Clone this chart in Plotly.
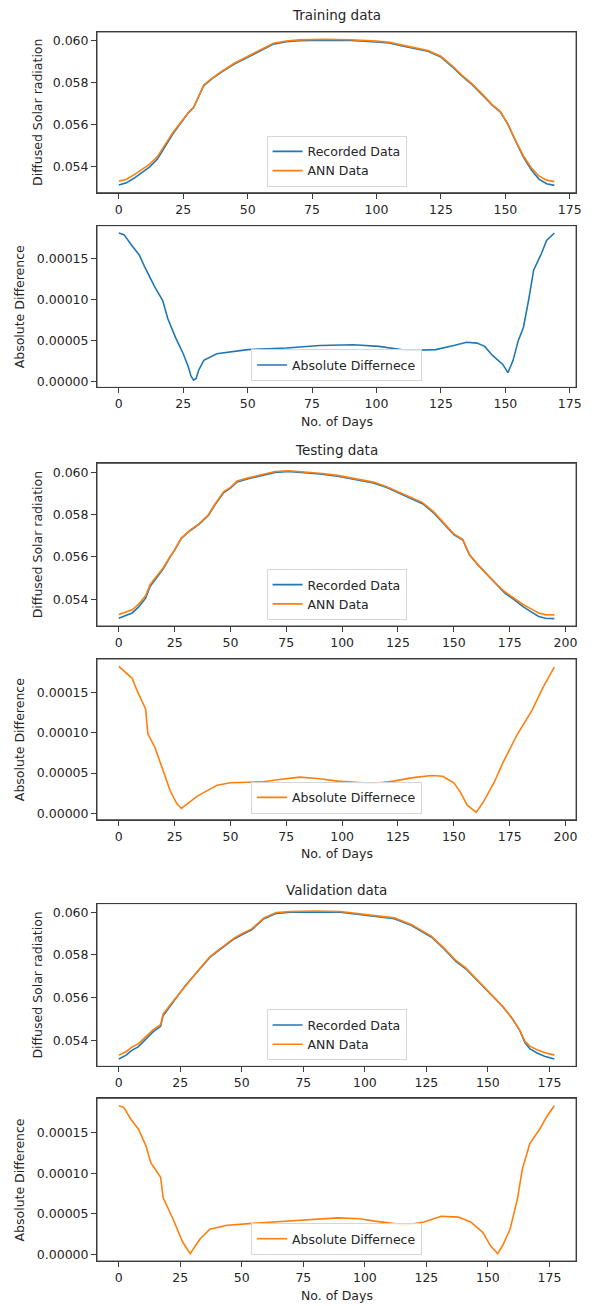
import plotly.graph_objects as go

# ---------------- data ----------------
# Training
train_days = [0, 3, 6, 9, 12, 15, 18, 21, 24, 27, 29, 31, 33, 36, 40, 45, 50, 55, 60, 65, 70, 80, 90,
              100, 105, 110, 115, 120, 125, 130, 133, 137, 142, 145, 148, 151, 154, 157, 160, 163, 166, 169]
train_rec = [0.05312, 0.05322, 0.05345, 0.05372, 0.05398, 0.05435, 0.05495, 0.05555, 0.05605, 0.05655,
             0.05680, 0.05730, 0.05785, 0.05815, 0.05850, 0.05888, 0.05920, 0.05950, 0.05982, 0.05993,
             0.05998, 0.06001, 0.05999, 0.05992, 0.05987, 0.05973, 0.05960, 0.05948, 0.05920, 0.05868,
             0.05832, 0.05790, 0.05728, 0.05690, 0.05660, 0.05600, 0.05520, 0.05445, 0.05385, 0.05340,
             0.05318, 0.05310]
train_ann = [0.05330, 0.05339, 0.05361, 0.05387, 0.05411, 0.05447, 0.05505, 0.05562, 0.05609, 0.05657,
             0.05680, 0.05731, 0.05788, 0.05818, 0.05853, 0.05892, 0.05924, 0.05954, 0.05986, 0.05997,
             0.06002, 0.06005, 0.06003, 0.05996, 0.05991, 0.05977, 0.05964, 0.05952, 0.05924, 0.05872,
             0.05836, 0.05794, 0.05732, 0.05693, 0.05662, 0.05601, 0.05523, 0.05450, 0.05395, 0.05355,
             0.05335, 0.05328]
train_diff_days = [0, 2, 5, 8, 10, 14, 17, 19, 22, 25, 27, 28, 29, 30, 31, 33, 38, 50, 65, 78, 91, 101,
                   112, 123, 130, 135, 139, 142, 145, 149, 151, 153, 155, 157, 159, 161, 164, 166, 169]
train_diff = [0.000181, 0.000179, 0.000166, 0.000154, 0.000140, 0.000115, 0.000099, 0.000077, 0.000054,
              0.000034, 0.000018, 0.000007, 0.000002, 0.000004, 0.000014, 0.000026, 0.000034, 0.000039,
              0.000041, 0.000044, 0.000045, 0.000043, 0.000038, 0.000039, 0.000044, 0.000048, 0.000047,
              0.000043, 0.000032, 0.000021, 0.000011, 0.000026, 0.000050, 0.000066, 0.000099, 0.000136,
              0.000156, 0.000172, 0.000181]

# Testing
test_days = [0, 3, 6, 9, 12, 14, 17, 20, 23, 25, 28, 32, 36, 40, 43, 47, 50, 53, 58, 62, 66, 70, 76, 82,
             90, 98, 107, 114, 120, 125, 131, 136, 141, 146, 150, 154, 157, 161, 165, 169, 173, 177, 181,
             185, 188, 191, 195]
test_rec = [0.05310, 0.05322, 0.05335, 0.05365, 0.05405, 0.05460, 0.05500, 0.05545, 0.05600, 0.05632,
            0.05688, 0.05725, 0.05755, 0.05795, 0.05845, 0.05905, 0.05925, 0.05955, 0.05970, 0.05980,
            0.05990, 0.06000, 0.06004, 0.06000, 0.05992, 0.05982, 0.05966, 0.05950, 0.05928, 0.05905,
            0.05876, 0.05852, 0.05808, 0.05752, 0.05705, 0.05680, 0.05610, 0.05560, 0.05515, 0.05468,
            0.05428, 0.05398, 0.05365, 0.05338, 0.05318, 0.05310, 0.05308]
test_ann = [0.05328, 0.05338, 0.05350, 0.05378, 0.05416, 0.05469, 0.05507, 0.05550, 0.05602, 0.05633,
            0.05689, 0.05727, 0.05758, 0.05798, 0.05849, 0.05909, 0.05929, 0.05959, 0.05974, 0.05984,
            0.05994, 0.06004, 0.06008, 0.06004, 0.05996, 0.05986, 0.05970, 0.05954, 0.05932, 0.05909,
            0.05880, 0.05857, 0.05813, 0.05756, 0.05709, 0.05683, 0.05611, 0.05560, 0.05516, 0.05472,
            0.05434, 0.05405, 0.05375, 0.05352, 0.05335, 0.05327, 0.05326]
test_diff_days = [0, 3, 6, 8, 10, 12, 13, 16, 20, 23, 26, 28, 35, 44, 50, 64, 72, 81, 90, 98, 114, 123,
                  131, 140, 145, 150, 153, 156, 160, 163, 168, 172, 178, 185, 190, 193, 195]
test_diff = [0.000183, 0.000176, 0.000168, 0.000154, 0.000142, 0.000130, 0.000099, 0.000083, 0.000052,
             0.000028, 0.000012, 0.000006, 0.000021, 0.000035, 0.000038, 0.000039, 0.000042, 0.000045,
             0.000043, 0.000040, 0.000037, 0.000040, 0.000044, 0.000047, 0.000046, 0.000038, 0.000026,
             0.000010, 0.000001, 0.000013, 0.000038, 0.000063, 0.000096, 0.000128, 0.000157, 0.000172,
             0.000182]

# Validation
val_days = [0, 3, 5, 8, 11, 14, 17, 18, 21, 23, 27, 30, 33, 37, 40, 44, 47, 50, 54, 59, 64, 70, 80, 90,
            98, 105, 112, 119, 127, 132, 137, 141, 144, 150, 156, 160, 163, 165, 167, 170, 173, 177]
val_rec = [0.05312, 0.05330, 0.05350, 0.05370, 0.05405, 0.05440, 0.05465, 0.05515, 0.05562, 0.05593,
           0.05655, 0.05695, 0.05735, 0.05788, 0.05815, 0.05852, 0.05876, 0.05895, 0.05918, 0.05970,
           0.05995, 0.06000, 0.06002, 0.06000, 0.05990, 0.05980, 0.05970, 0.05938, 0.05884, 0.05830,
           0.05770, 0.05735, 0.05700, 0.05628, 0.05558, 0.05500, 0.05445, 0.05390, 0.05360, 0.05340,
           0.05325, 0.05312]
val_ann = [0.05330, 0.05346, 0.05365, 0.05384, 0.05417, 0.05450, 0.05473, 0.05522, 0.05567, 0.05596,
           0.05656, 0.05695, 0.05737, 0.05791, 0.05819, 0.05856, 0.05880, 0.05899, 0.05922, 0.05974,
           0.05999, 0.06004, 0.06006, 0.06004, 0.05994, 0.05984, 0.05974, 0.05942, 0.05888, 0.05834,
           0.05774, 0.05739, 0.05703, 0.05631, 0.05559, 0.05500, 0.05446, 0.05396, 0.05372, 0.05355,
           0.05342, 0.05330]
val_diff_days = [0, 2, 5, 8, 11, 13, 17, 18, 22, 26, 29, 33, 37, 44, 58, 74, 89, 98, 104, 112, 116, 124,
                 131, 138, 143, 148, 151, 154, 156, 159, 162, 164, 167, 171, 174, 177]
val_diff = [0.000183, 0.000181, 0.000166, 0.000154, 0.000134, 0.000113, 0.000095, 0.000070, 0.000044,
            0.000015, 0.000001, 0.000019, 0.000031, 0.000036, 0.000039, 0.000042, 0.000045, 0.000044,
            0.000041, 0.000038, 0.000036, 0.000040, 0.000047, 0.000046, 0.000040, 0.000027, 0.000011,
            0.000001, 0.000011, 0.000031, 0.000068, 0.000105, 0.000136, 0.000154, 0.000170, 0.000183]

titles = ["Training data", "Testing data", "Validation data"]
top_ticks = [0.054, 0.056, 0.058, 0.060]
diff_ticks = [0.0, 0.00005, 0.00010, 0.00015]
x_ticks_train = [0, 25, 50, 75, 100, 125, 150, 175]
x_ticks_test = [0, 25, 50, 75, 100, 125, 150, 175, 200]
x_ticks_val = [0, 25, 50, 75, 100, 125, 150, 175]

# ---------------- layout helpers ----------------
W, H = 592, 1306
BLUE, ORANGE = "#1f77b4", "#ff7f0e"
FONT = "DejaVu Sans"
TXT = "#262626"
LINE = "#3c3c3c"


def fx(p):
    return p / W


def fy(p):
    return 1 - p / H


def mrange(vals):
    lo, hi = min(vals), max(vals)
    pad = 0.05 * (hi - lo)
    return [lo - pad, hi + pad]


def aref(letter, idx):
    return letter if idx == 1 else f"{letter}{idx}"


# pixel boxes (top, bottom) of the six panels
boxes = [(32, 193), (226, 388), (464, 627), (660, 821), (905, 1068), (1100, 1263)]
X0, X1 = 98, 582

fig = go.Figure()

datasets = [
    (train_days, train_rec, train_ann, train_diff_days, train_diff, BLUE, x_ticks_train),
    (test_days, test_rec, test_ann, test_diff_days, test_diff, ORANGE, x_ticks_test),
    (val_days, val_rec, val_ann, val_diff_days, val_diff, ORANGE, x_ticks_val),
]

annotations = []
shapes = []
layout_axes = {}
for i, (d, rec, ann, dd, diff, dcol, xt) in enumerate(datasets):
    ia = 2 * i + 1
    ib = 2 * i + 2
    n = max(d)
    xr = [-0.05 * n, 1.05 * n]
    leg_a = aref("legend", ia)
    leg_b = aref("legend", ib)
    fig.add_trace(go.Scatter(x=d, y=rec, mode="lines", name="Recorded Data",
                             line=dict(color=BLUE, width=1.6), xaxis=aref("x", ia), yaxis=aref("y", ia),
                             legend=leg_a))
    fig.add_trace(go.Scatter(x=d, y=ann, mode="lines", name="ANN Data",
                             line=dict(color=ORANGE, width=1.6), xaxis=aref("x", ia), yaxis=aref("y", ia),
                             legend=leg_a))
    fig.add_trace(go.Scatter(x=dd, y=diff, mode="lines", name="Absolute Differnece",
                             line=dict(color=dcol, width=1.6), xaxis=aref("x", ib), yaxis=aref("y", ib),
                             legend=leg_b))

    for k, (idx, yvals, yt, yfmt) in enumerate([(ia, rec + ann, top_ticks, ".3f"),
                                                 (ib, diff, diff_ticks, ".5f")]):
        top, bot = boxes[idx - 1]
        common = dict(showline=True, linecolor=LINE, linewidth=1, mirror=True, showgrid=False,
                      zeroline=False, ticks="outside", ticklen=5, tickwidth=1, tickcolor=LINE,
                      tickfont=dict(family=FONT, size=12.5, color=TXT))
        layout_axes[aref("xaxis", idx)] = dict(common, domain=[fx(X0), fx(X1)], anchor=aref("y", idx),
                                               range=xr, tickvals=xt)
        layout_axes[aref("yaxis", idx)] = dict(common, domain=[fy(bot), fy(top)], anchor=aref("x", idx),
                                               range=mrange(yvals), tickvals=yt, tickformat=yfmt)
        shapes.append(dict(type="rect", xref=aref("x", idx) + " domain", yref=aref("y", idx) + " domain",
                           x0=0, x1=1, y0=0, y1=1, line=dict(color=LINE, width=1),
                           fillcolor="rgba(0,0,0,0)", layer="above"))
        # legend
        leg_bottom = bot - 6
        layout_axes[aref("legend", idx)] = dict(x=fx((X0 + X1) / 2), y=fy(leg_bottom), xanchor="center",
                                                yanchor="bottom", bgcolor="rgba(255,255,255,0.85)",
                                                bordercolor="#d6d6d6", borderwidth=1,
                                                font=dict(family=FONT, size=12.5, color=TXT),
                                                tracegroupgap=0, itemwidth=30)
        # y label
        if k == 0:
            annotations.append(dict(text="Diffused Solar radiation", x=fx(38), y=fy((top + bot) / 2),
                                    xref="paper", yref="paper", textangle=-90, showarrow=False,
                                    font=dict(family=FONT, size=12.5, color=TXT),
                                    xanchor="center", yanchor="middle"))
        else:
            annotations.append(dict(text="Absolute Difference", x=fx(20), y=fy((top + bot) / 2),
                                    xref="paper", yref="paper", textangle=-90, showarrow=False,
                                    font=dict(family=FONT, size=12.5, color=TXT),
                                    xanchor="center", yanchor="middle"))
            annotations.append(dict(text="No. of Days", x=fx((X0 + X1) / 2), y=fy(bot + 34),
                                    xref="paper", yref="paper", showarrow=False,
                                    font=dict(family=FONT, size=12.5, color=TXT),
                                    xanchor="center", yanchor="middle"))

title_y = [15, 451, 891]
for t, ty in zip(titles, title_y):
    annotations.append(dict(text=t, x=fx((X0 + X1) / 2), y=fy(ty), xref="paper", yref="paper",
                            showarrow=False, font=dict(family=FONT, size=13.5, color=TXT),
                            xanchor="center", yanchor="middle"))

fig.update_layout(width=W, height=H, margin=dict(l=0, r=0, t=0, b=0), paper_bgcolor="white",
                  plot_bgcolor="white", annotations=annotations, shapes=shapes, **layout_axes)

fig.write_html("out.html", config={"displayModeBar": False},
               post_script="document.body.style.margin='0';document.body.style.overflow='hidden';")
